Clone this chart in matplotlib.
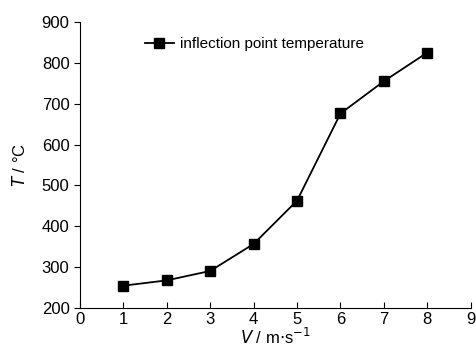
import matplotlib.pyplot as plt

plt.rcParams['font.family'] = ['Liberation Sans', 'DejaVu Sans']

velocity = [1, 2, 3, 4, 5, 6, 7, 8]
temperature = [255, 268, 291, 357, 463, 676, 755, 825]

fig = plt.figure(figsize=(4.76, 3.53), dpi=100)
ax = fig.add_axes([0.168, 0.127, 0.821, 0.811])

ax.plot(velocity, temperature, '-', color='black', lw=1.3, marker='s', ms=7,
        label='inflection point temperature')

ax.set_xlim(0, 9)
ax.set_ylim(200, 900)
ax.set_xticks(range(0, 10))
ax.set_yticks(range(200, 901, 100))
ax.spines['top'].set_visible(False)
ax.spines['right'].set_visible(False)
ax.tick_params(axis='x', direction='in', length=4, labelsize=12, pad=3)
ax.tick_params(axis='y', direction='out', length=4, labelsize=12)

ax.set_xlabel(r'$\mathit{V}$ / m$\cdot$s$^{-1}$', fontsize=12, labelpad=0)
ax.set_ylabel(r'$\mathit{T}$ / °C', fontsize=12, labelpad=10)

ax.legend(loc='upper left', bbox_to_anchor=(0.13, 0.995), frameon=False,
          fontsize=11, handlelength=1.9, handletextpad=0.4)

fig.savefig('out.png', dpi=100)
